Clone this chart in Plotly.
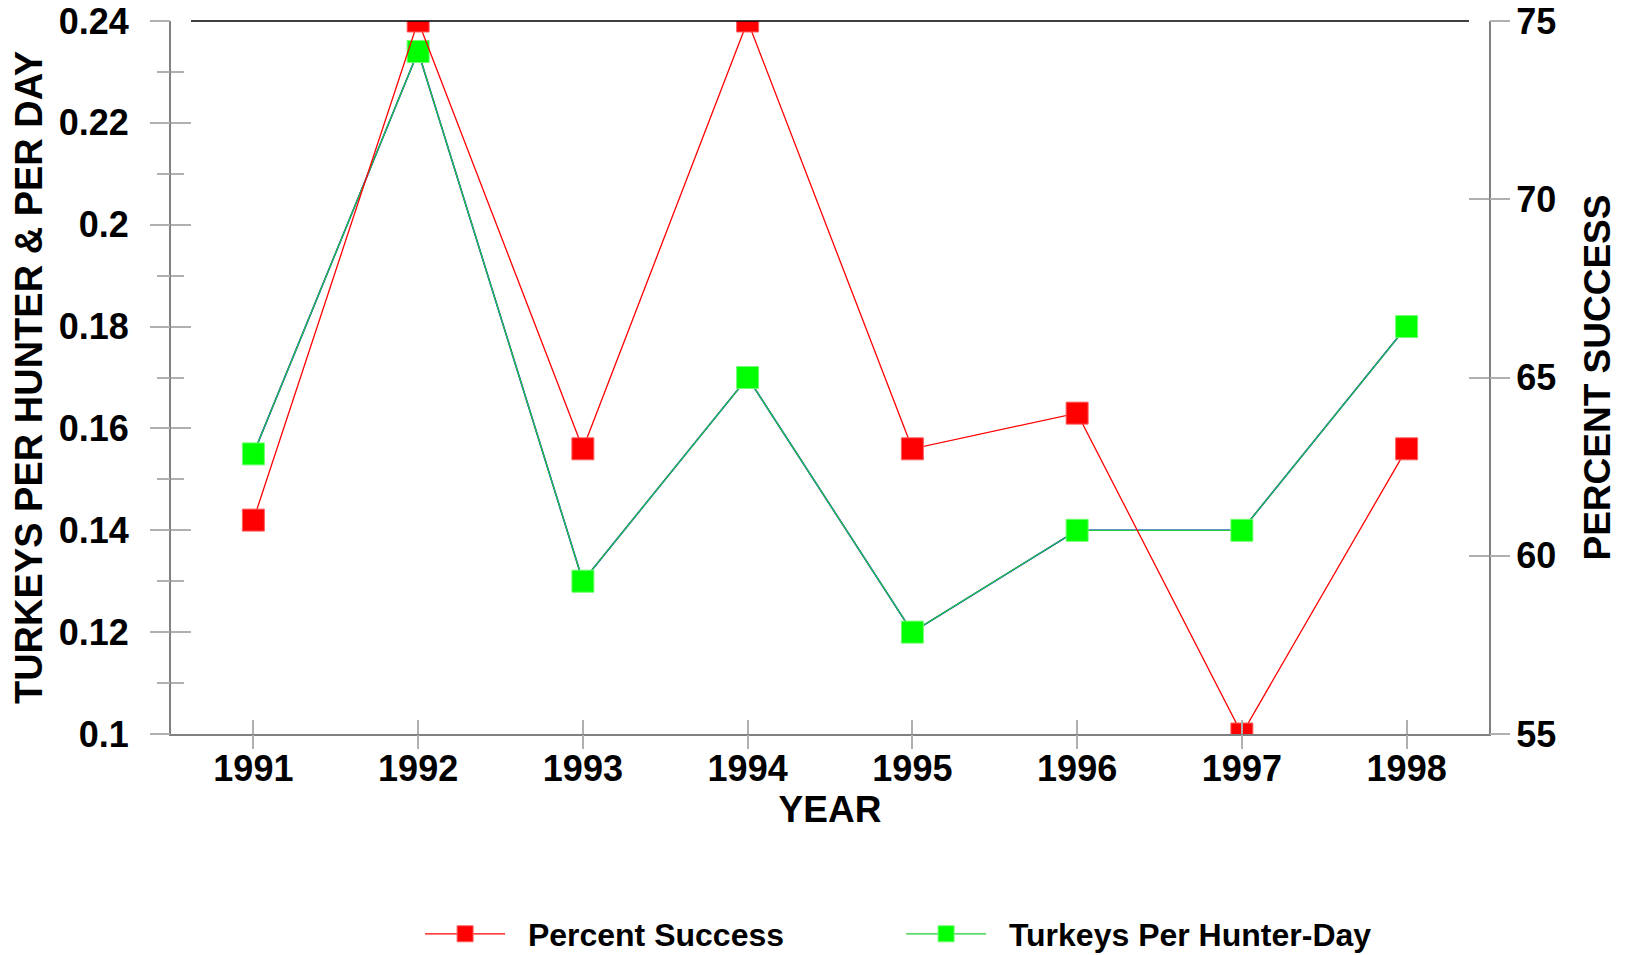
import plotly.graph_objects as go

years = [1991, 1992, 1993, 1994, 1995, 1996, 1997, 1998]
percent_success = [61.0, 75.0, 63.0, 75.0, 63.0, 64.0, 55.0, 63.0]
turkeys_per_hunter_day = [0.155, 0.234, 0.13, 0.17, 0.12, 0.14, 0.14, 0.18]
turkeys_per_hunter = [0.155, 0.234, 0.13, 0.17, 0.12, 0.14, 0.14, 0.18]

left_ticks = [0.1, 0.12, 0.14, 0.16, 0.18, 0.2, 0.22, 0.24]
left_ticktext = ["0.1", "0.12", "0.14", "0.16", "0.18", "0.2", "0.22", "0.24"]
right_ticks = [55, 60, 65, 70, 75]

FONT = "Liberation Sans"
AXIS_GRAY = "#808080"
TICK_GRAY = "#b0b0b0"
PAD = "\u00a0\u00a0"

fig = go.Figure()

# blue series underneath (same values as the green one)
fig.add_trace(go.Scatter(
    x=years, y=turkeys_per_hunter, mode="lines",
    line=dict(color="#0000ff", width=1.6),
    showlegend=False, hoverinfo="skip"))

fig.add_trace(go.Scatter(
    x=years, y=turkeys_per_hunter_day, name=PAD + "Turkeys Per Hunter-Day",
    mode="lines+markers", line=dict(color="#22cc33", width=1.3),
    marker=dict(symbol="square", size=22, color="#00ff00",
                line=dict(color="#70ff70", width=1))))

fig.add_trace(go.Scatter(
    x=years, y=percent_success, yaxis="y2", name=PAD + "Percent Success",
    mode="lines+markers", line=dict(color="#ff0000", width=1.3),
    marker=dict(symbol="square", size=22, color="#ff0000",
                line=dict(color="#ff6060", width=1))))

# empty traces so the tick-only overlay axes are drawn
fig.add_trace(go.Scatter(x=[], y=[], xaxis="x2", yaxis="y3", showlegend=False,
                         hoverinfo="skip"))
fig.add_trace(go.Scatter(x=[], y=[], xaxis="x", yaxis="y4", showlegend=False,
                         hoverinfo="skip"))

tickfont = dict(family=FONT, size=36, color="black", weight="bold")
titlefont = dict(family=FONT, size=37, color="black", weight="bold")

fig.update_layout(
    width=1619, height=947,
    margin=dict(l=163, r=138, t=13, b=221, autoexpand=False),
    paper_bgcolor="white", plot_bgcolor="white",
    showlegend=True,
    legend=dict(orientation="h", x=0.189, xanchor="left", y=-0.2805, yanchor="middle",
                font=dict(family=FONT, size=32, color="black", weight="bold"),
                entrywidth=386, entrywidthmode="pixels", itemwidth=80,
                traceorder="reversed",
                bgcolor="rgba(0,0,0,0)"),
    xaxis=dict(range=[1990.5, 1998.5], tickvals=years, ticks="inside", ticklen=14,
               tickwidth=1.5, tickcolor=TICK_GRAY, showline=True, linecolor=AXIS_GRAY,
               linewidth=2, showgrid=False, zeroline=False, tickfont=tickfont,
               ticklabelstandoff=2, automargin=False, ticklabeloverflow="allow",
               title=dict(text="YEAR", font=titlefont, standoff=0)),
    xaxis2=dict(range=[1990.5, 1998.5], overlaying="x", anchor="y", side="bottom",
                tickvals=years, ticks="outside", ticklen=14, tickwidth=1.5,
                tickcolor=TICK_GRAY, showticklabels=False, showline=False,
                showgrid=False, zeroline=False, automargin=False),
    yaxis=dict(range=[0.1, 0.24], tickvals=left_ticks, ticktext=left_ticktext,
               ticks="inside", ticklen=20, tickwidth=1.5, tickcolor=TICK_GRAY,
               minor=dict(dtick=0.01, ticks="inside", ticklen=13, tickwidth=1.5,
                          tickcolor=TICK_GRAY, showgrid=False),
               showline=True, linecolor=AXIS_GRAY, linewidth=2, showgrid=False,
               zeroline=False, tickfont=tickfont, ticklabelstandoff=33,
               automargin=False, ticklabeloverflow="allow",
               title=dict(text="TURKEYS PER HUNTER &amp; PER DAY",
                          font=dict(family=FONT, size=38, color="black", weight="bold"),
                          standoff=4)),
    yaxis3=dict(range=[0.1, 0.24], overlaying="y", anchor="x", side="left",
                tickvals=left_ticks, ticks="outside", ticklen=20, tickwidth=1.5,
                tickcolor=TICK_GRAY,
                minor=dict(dtick=0.01, ticks="outside", ticklen=13, tickwidth=1.5,
                           tickcolor=TICK_GRAY, showgrid=False),
                showticklabels=False, showline=False, showgrid=False, zeroline=False,
                automargin=False),
    yaxis2=dict(range=[55, 75], overlaying="y", side="right", anchor="x",
                tickvals=right_ticks, ticks="inside", ticklen=20, tickwidth=1.5,
                tickcolor=TICK_GRAY, showline=True, linecolor=AXIS_GRAY, linewidth=2,
                showgrid=False, zeroline=False, tickfont=tickfont, ticklabelstandoff=18,
                automargin=False, ticklabeloverflow="allow",
                title=dict(text="PERCENT SUCCESS", font=titlefont, standoff=29)),
    yaxis4=dict(range=[55, 75], overlaying="y", side="right", anchor="x",
                tickvals=right_ticks, ticks="outside", ticklen=20, tickwidth=1.5,
                tickcolor=TICK_GRAY, showticklabels=False, showline=False,
                showgrid=False, zeroline=False, automargin=False),
    shapes=[dict(type="line", xref="paper", yref="paper", x0=20 / 1318, x1=1 - 20 / 1318,
                 y0=1, y1=1, line=dict(color="black", width=1.5), layer="above")],
)

fig.write_html("out.html")
